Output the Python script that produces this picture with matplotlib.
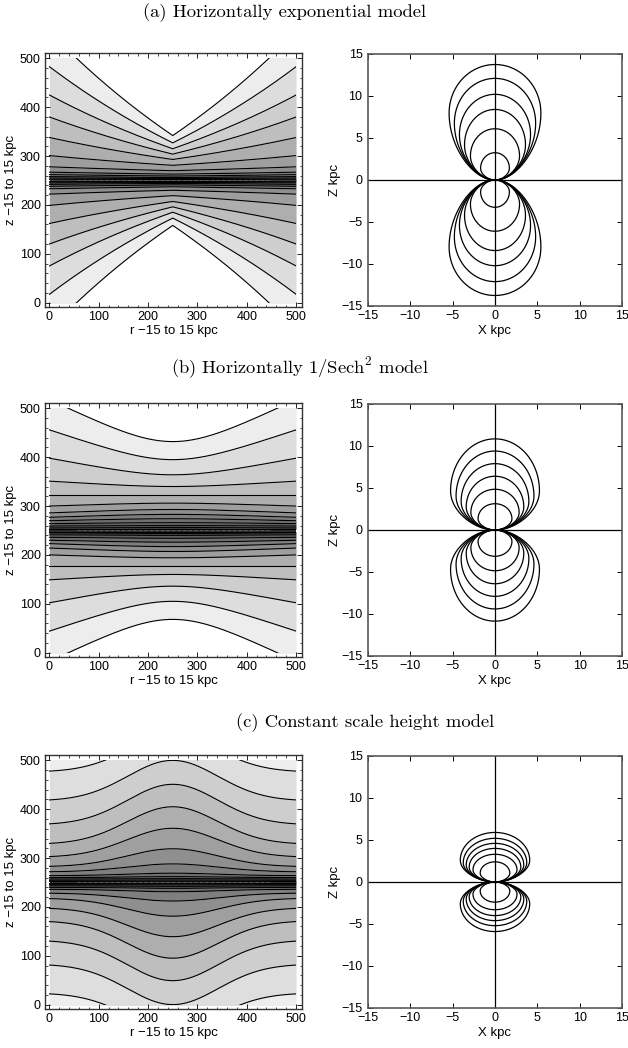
import numpy as np
import matplotlib.pyplot as plt
from matplotlib.patches import Rectangle
from matplotlib.ticker import MultipleLocator

plt.rcParams['font.family'] = ['Liberation Sans', 'DejaVu Sans']
plt.rcParams['mathtext.fontset'] = 'cm'

titles = ['(a) Horizontally exponential model',
          '(b) Horizontally 1/Sech$^2$ model',
          '(c) Constant scale height model']

# contour offsets from the midplane (grid units, 250 = z of 0 kpc), outermost first,
# taken at the centre column (r = 250) and at the grid edge (r = 0 / 500)
exp_centre = [92, 77, 65, 54, 43, 31, 20, 13, 9, 6, 4, 2]
exp_edge = [305, 233, 175, 130, 88, 51, 28, 17, 12, 8, 5, 2.5]
sech_centre = [182, 145, 114, 90, 72, 56, 43, 33, 24, 16, 10, 6, 2.5]
sech_edge = [268, 206, 148, 101, 72, 50, 36, 27, 20, 14, 9, 5, 2.5]
const_centre = [300, 250, 201, 155, 111, 69, 38, 19, 12, 8, 5, 2.5]
const_edge = [228, 169, 120, 80, 53, 33, 22, 14, 10, 7, 4.5, 2.2]

# field line loops: apex height and half width in kpc, outermost first
exp_height = [13.75, 12.1, 10.2, 8.4, 6.1, 3.25]
exp_width = [5.42, 4.8, 4.2, 3.6, 2.9, 1.7]
sech_height = [10.85, 9.4, 7.9, 6.4, 4.85, 3.13]
sech_width = [5.25, 4.6, 4.0, 3.4, 2.85, 2.0]
const_height = [5.9, 5.2, 4.6, 4.0, 3.3, 2.4]
const_width = [4.1, 3.75, 3.4, 3.05, 2.6, 1.75]

# height of the widest point of each loop, as a fraction of its apex height
exp_waist = [0.58, 0.56, 0.53, 0.5, 0.47, 0.43]
sech_waist = [0.43] * 6
const_waist = [0.44] * 6

TICK_SIZE = 9
LABEL_SIZE = 9.5


def shape_exp(d):
    return np.expm1(d / 600) / np.expm1(250 / 600)


def shape_sech(d):
    return np.log(np.cosh(d / 100)) / np.log(np.cosh(2.5))


def shape_const(d):
    return np.expm1(-(d / 130) ** 2) / np.expm1(-(250 / 130) ** 2)


def density_panel(ax, centre, edge, shape, outside, first):
    r = np.linspace(0, 500, 501)
    s = shape(np.abs(r - 250))
    offs = [c + (e - c) * s for c, e in zip(centre, edge)]
    bounds = [np.full_like(r, 600.0)] + offs + [np.zeros_like(r)]
    shades = [outside] + list(np.clip(first - 0.062 * np.arange(len(offs)), 0.12, 1))
    box = Rectangle((0, 0), 500, 500, transform=ax.transData)
    for i, g in enumerate(shades):
        for sign in (1, -1):
            lo = 250 + sign * bounds[i + 1]
            hi = 250 + sign * bounds[i]
            p = ax.fill_between(r, lo, hi, color=str(g), lw=0)
            p.set_clip_path(box)
    for off in offs:
        for sign in (1, -1):
            ln, = ax.plot(r, 250 + sign * off, color='k', lw=0.8)
            ln.set_clip_path(box)
    # numerical seam along the midplane
    ax.plot([55, 445], [250, 250], color='0.45', lw=0.5, dashes=(5, 3))

    ax.set_xlim(-9, 512)
    ax.set_ylim(-9, 511)
    ax.set_xticks(range(0, 501, 100))
    ax.set_yticks(range(0, 501, 100))
    ax.xaxis.set_minor_locator(MultipleLocator(20))
    ax.yaxis.set_minor_locator(MultipleLocator(20))
    ax.tick_params(which='both', direction='in', top=True, right=True)
    ax.tick_params(which='major', length=3.5, width=0.6, labelsize=TICK_SIZE, pad=3)
    ax.tick_params(which='minor', length=1.8, width=0.5)
    ax.set_xlabel('r \u221215 to 15 kpc', fontsize=LABEL_SIZE, labelpad=1)
    ax.set_ylabel('z \u221215 to 15 kpc', fontsize=LABEL_SIZE, labelpad=2)
    for sp in ax.spines.values():
        sp.set_linewidth(1.0)
        sp.set_color('0.2')


def loop(h, w, waist):
    # below the waist the half width grows like sqrt(sin), above it the loop
    # closes with an elliptical cap up to the apex
    u = 0.5 * (1 - np.cos(np.linspace(0, np.pi, 600)))
    low = np.sin(0.5 * np.pi * np.clip(u / waist, 0, 1)) ** 0.5
    t = np.clip((u - waist) / (1 - waist), 0, 1)
    high = np.sqrt(1 - t ** 2)
    g = np.where(u < waist, low, high)
    x = w * g
    z = h * u
    return np.r_[x, -x[::-1]], np.r_[z, z[::-1]]


def field_panel(ax, heights, widths, waist):
    ax.axhline(0, color='k', lw=0.9)
    ax.axvline(0, color='k', lw=0.9)
    for h, w, m in zip(heights, widths, waist):
        x, z = loop(h, w, m)
        ax.plot(x, z, color='k', lw=0.9)
        ax.plot(x, -z, color='k', lw=0.9)
    ax.set_xlim(-15, 15)
    ax.set_ylim(-15, 15)
    ax.set_xticks(range(-15, 16, 5))
    ax.set_yticks(range(-15, 16, 5))
    ax.tick_params(direction='in', top=True, right=True, length=3.5,
                   width=0.7, labelsize=TICK_SIZE)
    ax.tick_params(axis='y', pad=4)
    ax.tick_params(axis='x', pad=3)
    ax.set_xlabel('X kpc', fontsize=LABEL_SIZE, labelpad=2)
    ax.set_ylabel('Z kpc', fontsize=LABEL_SIZE, labelpad=0)
    for sp in ax.spines.values():
        sp.set_linewidth(1.2)
        sp.set_color('0.35')


W, H = 628, 1048
fig = plt.figure(figsize=(W / 100, H / 100), dpi=100)

rows = [
    (exp_centre, exp_edge, shape_exp, 1.0, 0.93, exp_height, exp_width, exp_waist),
    (sech_centre, sech_edge, shape_sech, 1.0, 0.93, sech_height, sech_width, sech_waist),
    (const_centre, const_edge, shape_const, 0.93, 0.87, const_height, const_width, const_waist),
]
row_top = [53, 403, 755]
title_pos = [(285, 13), (300, 368), (365, 723)]

for k, (cen, edg, shp, outside, first, hts, wds, wst) in enumerate(rows):
    top = row_top[k]
    axl = fig.add_axes([45 / W, 1 - (top + 254) / H, 257 / W, 254 / H])
    density_panel(axl, cen, edg, shp, outside, first)
    axr = fig.add_axes([368 / W, 1 - (top + 253) / H, 254 / W, 252 / H])
    field_panel(axr, hts, wds, wst)
    tx, ty = title_pos[k]
    fig.text(tx / W, 1 - ty / H, titles[k], ha='center', va='center',
             family='cmr10', fontsize=13.4)

fig.savefig('out.png', dpi=100)
